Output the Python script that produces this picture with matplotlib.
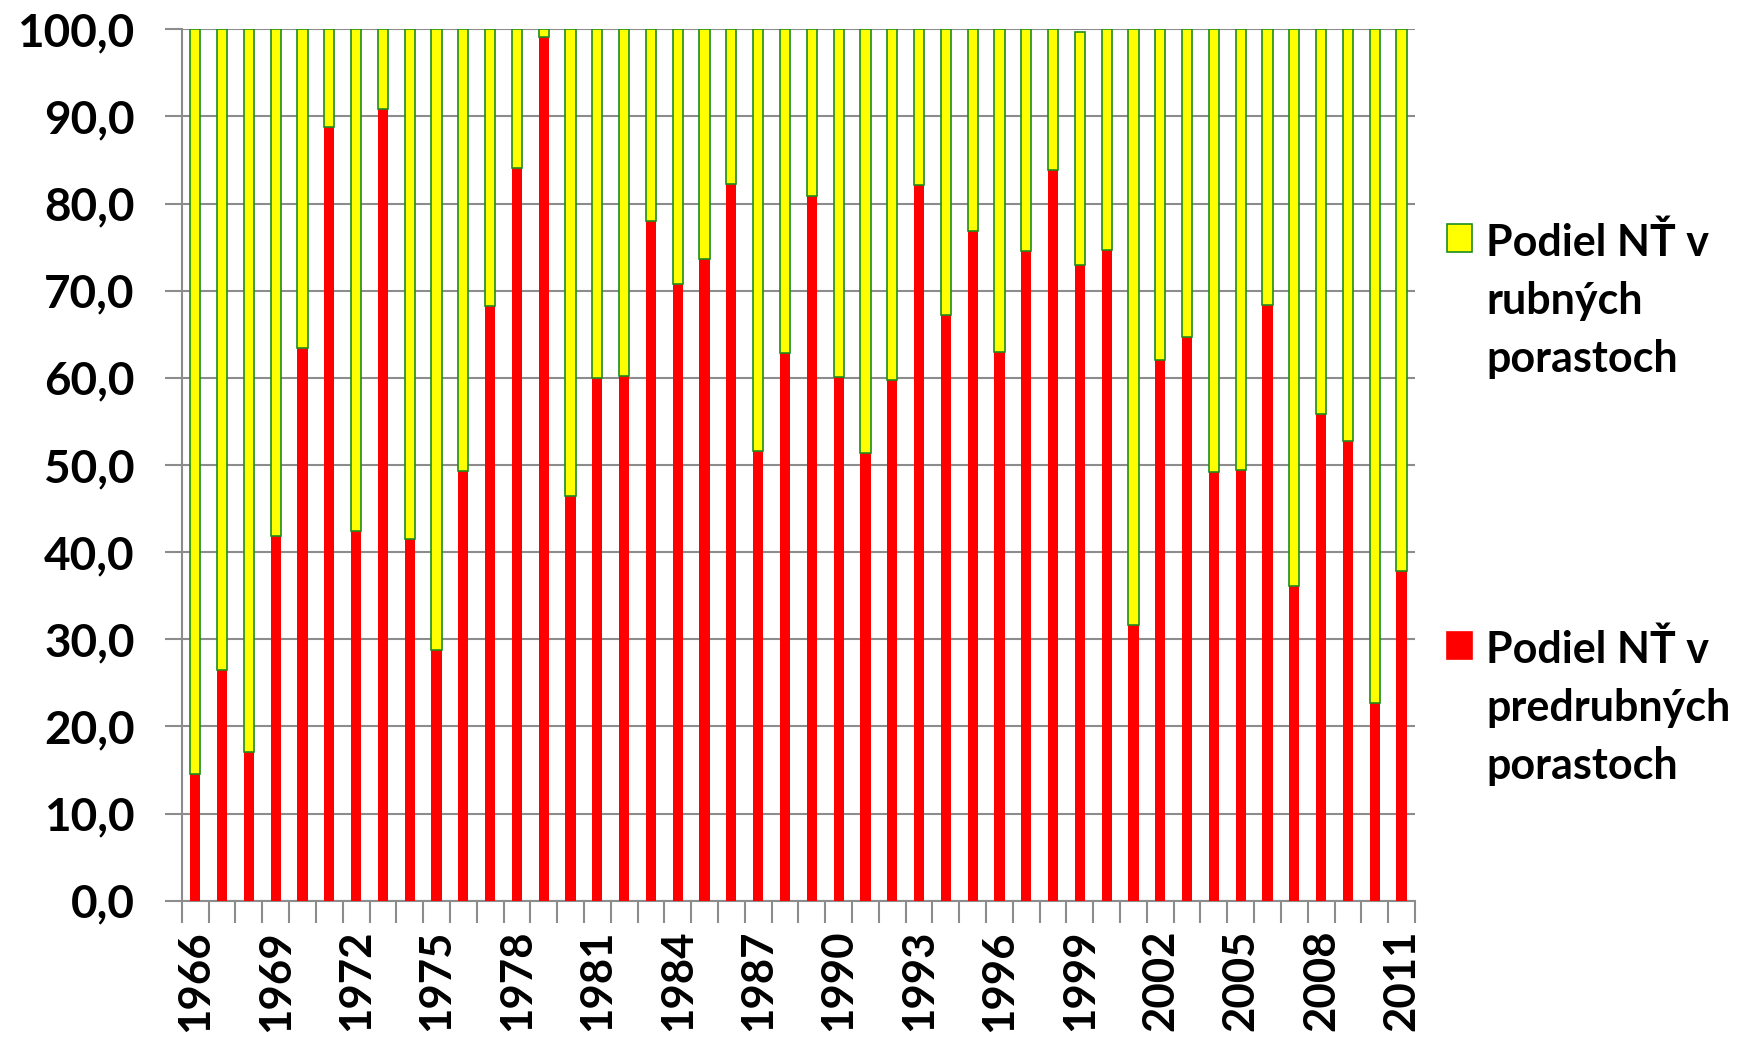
import matplotlib
matplotlib.use("Agg")
import matplotlib.pyplot as plt
from matplotlib.patches import Rectangle
from matplotlib.ticker import FuncFormatter, FixedLocator

# years and shares (%)
years = list(range(1966, 2012))
predrubne = [14.6, 26.5, 17.1, 41.8, 63.4, 88.8, 42.4, 90.9, 41.5, 28.8,
             49.3, 68.3, 84.1, 99.1, 46.4, 60.0, 60.2, 78.0, 70.8, 73.6,
             82.2, 51.6, 62.8, 80.9, 60.1, 51.4, 59.8, 82.1, 67.2, 76.9,
             63.0, 74.5, 83.9, 73.0, 74.7, 31.6, 62.0, 64.7, 49.2, 49.4,
             68.4, 36.1, 55.8, 52.7, 22.7, 37.8]
rubne = [85.4, 73.5, 82.9, 58.2, 36.6, 11.2, 57.6, 9.1, 58.5, 71.2,
         50.7, 31.7, 15.9, 0.9, 53.6, 40.0, 39.8, 22.0, 29.2, 26.4,
         17.8, 48.4, 37.2, 19.1, 39.9, 48.6, 40.2, 17.9, 32.8, 23.1,
         37.0, 25.5, 16.1, 26.7, 25.3, 68.4, 38.0, 35.3, 50.8, 50.6,
         31.6, 63.9, 44.2, 47.3, 77.3, 62.2]
label_rubne = "Podiel NŤ v\nrubných\nporastoch"
label_predrubne = "Podiel NŤ v\npredrubných\nporastoch"

plt.rcParams['font.family'] = ['Lato', 'DejaVu Sans']
plt.rcParams['font.weight'] = 'bold'

red = '#ff0000'
yellow = '#ffff00'
green = '#1e8c1e'
gray = '#8c8c8c'

fig = plt.figure(figsize=(17.59, 10.44), dpi=100)
ax = fig.add_axes([0.1034, 0.1372, 0.7010, 0.8348])

x = list(range(len(years)))
ax.bar(x, predrubne, width=0.38, color=red, zorder=3)
ax.bar(x, rubne, width=0.38, bottom=predrubne, color=yellow,
       edgecolor=green, linewidth=1.2, zorder=3)

ax.set_xlim(-0.5, len(years) - 0.5)
ax.set_ylim(0, 100)
ax.set_yticks(range(0, 101, 10))
ax.yaxis.set_major_formatter(FuncFormatter(lambda v, p: f"{v:.1f}".replace('.', ',')))
ax.grid(axis='y', color=gray, linewidth=1.5, zorder=0)

# year labels every 3rd bar, tick marks between categories
ax.set_xticks(x[::3])
ax.set_xticklabels([str(y) for y in years[::3]], rotation=90)
ax.xaxis.set_minor_locator(FixedLocator([i - 0.5 for i in range(len(years) + 1)]))
ax.tick_params(axis='x', which='major', length=0, pad=21, labelsize=31.5)
ax.tick_params(axis='x', which='minor', length=16, width=1.5, color=gray)
ax.tick_params(axis='y', length=12, width=1.5, color=gray, pad=22, labelsize=33)

for s in ['top', 'right']:
    ax.spines[s].set_visible(False)
for s in ['left', 'bottom']:
    ax.spines[s].set_color(gray)
    ax.spines[s].set_linewidth(1.5)

# legend drawn by hand so the key sits next to the first line
entries = [(label_rubne, yellow, green, 0.787), (label_predrubne, red, red, 0.397)]
for text, fc, ec, ytop in entries:
    fig.patches.append(Rectangle((0.8226, ytop - 0.028), 0.0142, 0.026,
                                 facecolor=fc, edgecolor=ec, linewidth=1.2,
                                 transform=fig.transFigure))
    fig.text(0.845, ytop, text, fontsize=31, fontweight='bold',
             va='top', ha='left', linespacing=1.55)

fig.savefig('out.png', dpi=100)
